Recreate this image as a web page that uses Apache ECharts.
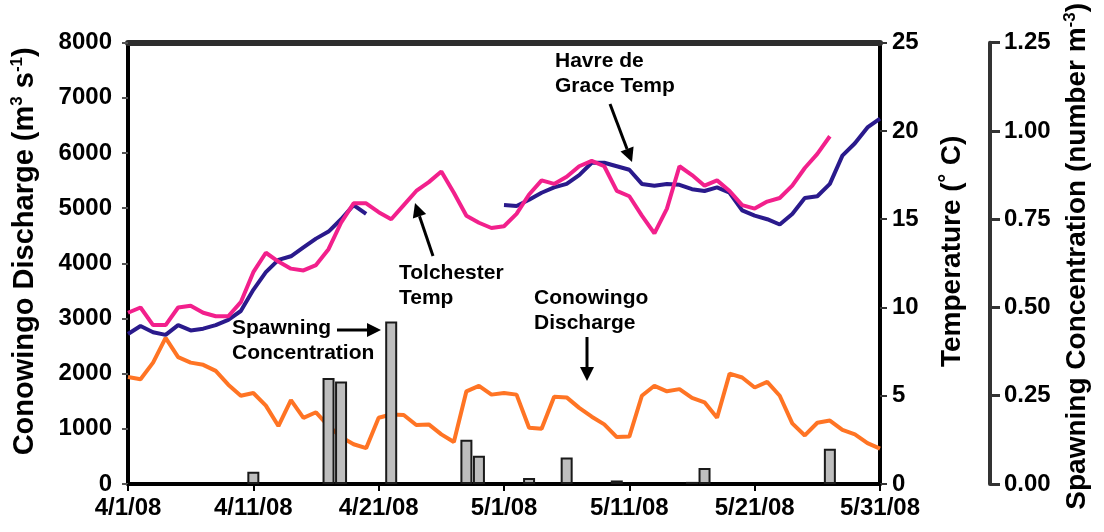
<!DOCTYPE html>
<html><head><meta charset="utf-8">
<script src="https://cdn.jsdelivr.net/npm/echarts@6/dist/echarts.min.js"></script>
<style>html,body{margin:0;padding:0;background:#fff}#c{width:1104px;height:532px}</style>
</head><body><div id="c"></div>
<script>
// x = days since 4/1/08
const tickLabels = ['4/1/08','4/11/08','4/21/08','5/1/08','5/11/08','5/21/08','5/31/08'];
const discharge = [1940,1900,2200,2650,2300,2200,2160,2050,1800,1600,1650,1420,1050,1520,1200,1300,1050,850,720,650,1200,1260,1250,1070,1080,900,760,1680,1780,1620,1650,1620,1020,1000,1580,1570,1380,1220,1080,850,860,1600,1780,1680,1720,1560,1480,1200,2000,1930,1750,1850,1600,1100,880,1110,1150,980,900,740,640];
const havreTemp = [8.5,8.95,8.6,8.45,9.0,8.7,8.8,9.0,9.3,9.8,11.0,12.0,12.7,12.9,13.4,13.9,14.3,15.0,15.8,15.3,null,null,null,null,null,null,null,null,null,null,15.8,15.75,16.1,16.5,16.8,17.0,17.5,18.2,18.2,18.0,17.8,17.0,16.9,17.0,16.95,16.7,16.6,16.8,16.5,15.5,15.2,15.0,14.7,15.3,16.2,16.3,17.0,18.6,19.3,20.2,20.7];
const tolchesterTemp = [9.7,10.0,9.0,9.0,10.0,10.1,9.7,9.5,9.5,10.3,12.0,13.1,12.6,12.2,12.1,12.4,13.3,14.8,15.9,15.9,15.4,15.0,15.8,16.6,17.1,17.7,16.5,15.2,14.8,14.5,14.6,15.3,16.4,17.2,17.0,17.4,18.0,18.3,18.0,16.6,16.3,15.2,14.2,15.6,18.0,17.5,16.9,17.2,16.6,15.8,15.6,16.0,16.2,16.9,17.9,18.7,19.7,null,null,null,null];
const spawnDays = [10,16,17,21,27,28,32,35,39,45,46,56];
const spawnConc = [0.035,0.30,0.29,0.46,0.125,0.08,0.017,0.075,0.01,0.006,0.045,0.10];

const FONT = '"Liberation Sans", Arial, sans-serif';
const chart = echarts.init(document.getElementById('c'), null, {renderer:'canvas'});
const pair = arr => arr.map((v,i)=>[i, v]);

function arrow(x1,y1,x2,y2){
  const ang = Math.atan2(y2-y1,x2-x1), L=14, W=7;
  const bx = x2 - L*Math.cos(ang), by = y2 - L*Math.sin(ang);
  const px = -Math.sin(ang)*W, py = Math.cos(ang)*W;
  return [
    {type:'line', shape:{x1:x1,y1:y1,x2:bx,y2:by}, style:{stroke:'#000', lineWidth:3}, z:100},
    {type:'polygon', shape:{points:[[x2,y2],[bx+px,by+py],[bx-px,by-py]]}, style:{fill:'#000'}, z:100}
  ];
}
function label(x,y,text){
  return {type:'text', left:x, top:y, z:100, style:{text:text, fontSize:21, fontWeight:'bold', fontFamily:FONT, fill:'#000', lineHeight:25}};
}
const labStyle = {color:'#000', fontWeight:'bold', fontSize:24, fontFamily:FONT};
function nameStyle(size, padLeft){
  return {color:'#000', fontWeight:'bold', fontSize:size, fontFamily:FONT, padding:[0,0,0,padLeft],
    rich:{sup:{color:'#000', fontWeight:'bold', fontSize:17, fontFamily:FONT, verticalAlign:'top', padding:[0,0,14,0]}}};
}

chart.setOption({
  animation:false,
  backgroundColor:'#fff',
  grid:{left:128, right:224, top:42, bottom:48},
  xAxis:[
    {type:'value', min:0, max:60, interval:10, position:'bottom',
     axisLine:{show:true, onZero:false, lineStyle:{color:'#000', width:4}},
     axisTick:{show:true, length:7, lineStyle:{color:'#000', width:2}},
     axisLabel:Object.assign({formatter:v=>tickLabels[Math.round(v/10)], margin:12, showMinLabel:true, showMaxLabel:true}, labStyle),
     splitLine:{show:false}},
    {type:'value', min:0, max:60, position:'top',
     axisLine:{show:true, onZero:false, lineStyle:{color:'#2e2e2e', width:6}},
     axisTick:{show:false}, axisLabel:{show:false}, splitLine:{show:false}}
  ],
  yAxis:[
    {type:'value', position:'left', min:0, max:8000, interval:1000,
     axisLine:{show:true, onZero:false, lineStyle:{color:'#000', width:4}},
     axisTick:{show:true, length:6, lineStyle:{color:'#555', width:2}},
     axisLabel:Object.assign({margin:16, formatter:v=>String(v)}, labStyle), splitLine:{show:false},
     name:'Conowingo Discharge (m{sup|3} s{sup|-1})', nameLocation:'middle', nameGap:88, nameRotate:90, nameTextStyle:nameStyle(29,24)},
    {type:'value', position:'right', min:0, max:25, interval:5,
     axisLine:{show:true, onZero:false, lineStyle:{color:'#000', width:4}},
     axisTick:{show:true, length:7, lineStyle:{color:'#333', width:2}},
     axisLabel:Object.assign({margin:12}, labStyle), splitLine:{show:false},
     name:'Temperature (˚ C)', nameLocation:'middle', nameGap:58, nameRotate:90, nameTextStyle:nameStyle(28,24)},
    {type:'value', position:'right', offset:110, min:0, max:1.25, interval:0.25,
     axisLine:{show:true, onZero:false, lineStyle:{color:'#333', width:4}},
     axisTick:{show:true, length:10, lineStyle:{color:'#333', width:3}},
     axisLabel:Object.assign({margin:14, formatter:v=>v.toFixed(2)}, labStyle), splitLine:{show:false},
     name:'Spawning Concentration (number m{sup|-3})', nameLocation:'middle', nameGap:72, nameRotate:90, nameTextStyle:nameStyle(28,14)}
  ],
  series:[
    {type:'line', name:'Conowingo Discharge', xAxisIndex:0, yAxisIndex:0, data:pair(discharge), showSymbol:false, symbol:'none',
     lineStyle:{color:'#ff7424', width:4}, z:2},
    {type:'line', name:'Havre de Grace Temp', xAxisIndex:0, yAxisIndex:1, data:pair(havreTemp), showSymbol:false, symbol:'none', connectNulls:false,
     lineStyle:{color:'#2a1a8c', width:4}, z:3},
    {type:'line', name:'Tolchester Temp', xAxisIndex:0, yAxisIndex:1, data:pair(tolchesterTemp), showSymbol:false, symbol:'none', connectNulls:false,
     lineStyle:{color:'#f2208c', width:4}, z:4},
    {type:'bar', name:'Spawning Concentration', xAxisIndex:0, yAxisIndex:2, data:spawnDays.map((d,i)=>[d, spawnConc[i]]), barWidth:12,
     itemStyle:{color:'#bebebe', borderColor:'#1a1a1a', borderWidth:2}, z:5}
  ],
  graphic:[
    label(555,49,'Havre de\nGrace Temp'),
    label(399,261,'Tolchester\nTemp'),
    label(232,316,'Spawning\nConcentration'),
    label(534,286,'Conowingo\nDischarge'),
    ...arrow(610,104,632,162),
    ...arrow(433,256,415,203),
    ...arrow(337,330,381,330),
    ...arrow(587,337,587,381)
  ]
});
</script></body></html>
